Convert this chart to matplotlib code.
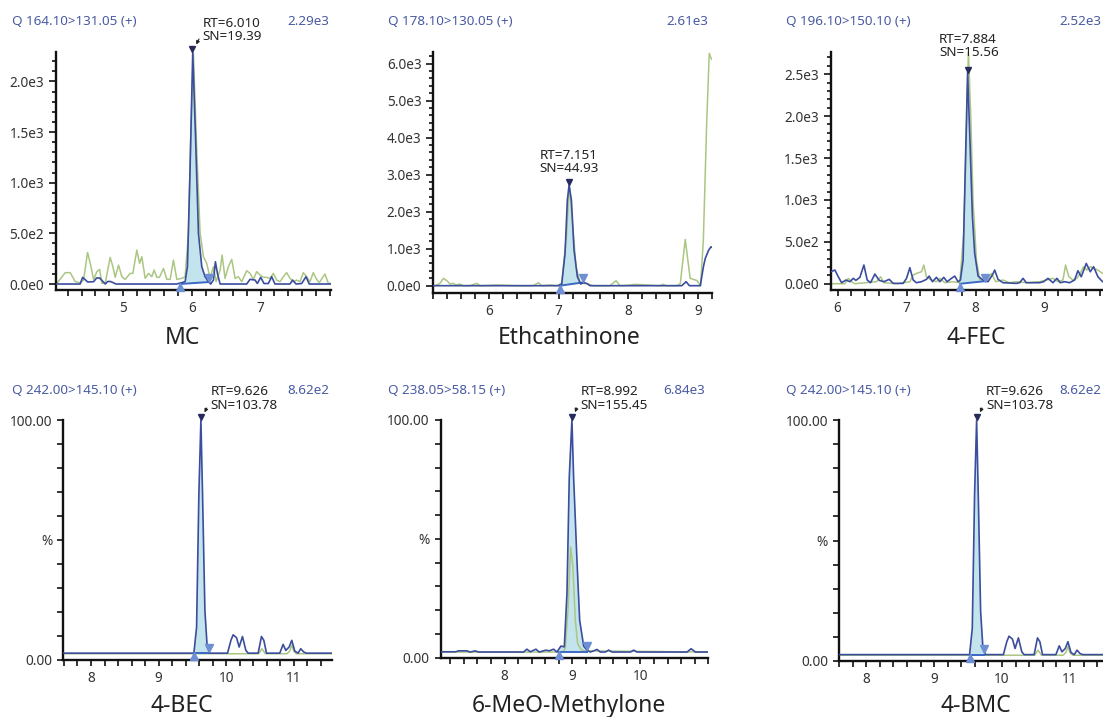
import numpy as np
import matplotlib
matplotlib.use("Agg")
import matplotlib.pyplot as plt
from matplotlib.ticker import MultipleLocator, FixedLocator, FixedFormatter, FuncFormatter
from matplotlib.transforms import offset_copy

W, H = 1103, 717
plt.rcParams["font.family"] = ["Noto Sans", "DejaVu Sans"]

BLUE = "#3b4d9e"
GREEN = "#abc682"
FILL = "#c4e4ed"
HEAD = "#4a5ba3"
APEX = "#262b5c"
EDGE = "#6f8fd4"
BASE = "#3a68c4"

# ---- MC (Q 164.10>131.05) ----
MC_BLUE_T = [4.03, 4.38, 4.417, 4.49, 4.575, 4.62, 4.662, 4.745, 4.78, 4.82, 4.86, 4.9,
             5.78, 5.903, 5.937, 5.976, 6.014, 6.053, 6.097, 6.145, 6.193, 6.242, 6.275,
             6.314, 6.343, 6.372, 6.411, 6.797, 6.845, 6.918, 6.952, 7.0, 7.048, 7.111,
             7.159, 7.208, 7.425, 7.464, 7.512, 7.594, 7.657, 7.705, 8.02]
MC_BLUE_I = [0, 0, 66, 20, 23, 60, 60, 0, 25, 25, 13, 0,
             0, 23, 171, 1156, 2290, 1484, 500, 171, 72, 23, 0,
             39, 220, 105, 0, 0, 46, 39, 5, 66, 5, 5,
             72, 0, 0, 39, 0, 5, 72, 0, 0]
MC_GREEN_T = [4.043, 4.164, 4.237, 4.309, 4.382, 4.43, 4.488, 4.527, 4.575, 4.623, 4.662,
              4.696, 4.744, 4.816, 4.855, 4.889, 4.937, 4.986, 5.034, 5.106, 5.145, 5.203,
              5.242, 5.275, 5.324, 5.372, 5.42, 5.454, 5.493, 5.531, 5.589, 5.638, 5.686,
              5.734, 5.783, 5.855, 5.903, 5.952, 5.986, 6.024, 6.072, 6.121, 6.169, 6.217,
              6.266, 6.314, 6.353, 6.411, 6.44, 6.483, 6.531, 6.58, 6.628, 6.676, 6.725,
              6.797, 6.845, 6.894, 6.942, 6.99, 7.039, 7.087, 7.135, 7.184, 7.232, 7.28,
              7.329, 7.377, 7.425, 7.473, 7.522, 7.57, 7.618, 7.667, 7.715, 7.763, 7.802,
              7.85, 7.932, 7.981, 8.019]
MC_GREEN_I = [7, 112, 112, 23, 13, 39, 312, 204, 46, 122, 145,
              7, 7, 263, 171, 66, 187, 72, 46, 105, 105, 335,
              204, 269, 56, 105, 72, 138, 66, 66, 154, 46, 46,
              236, 46, 56, 72, 500, 1484, 2272, 1320, 500, 269, 204,
              56, 171, 23, 138, 286, 56, 171, 243, 56, 72, 23,
              131, 105, 46, 122, 89, 66, 66, 56, 105, 39, 23,
              72, 112, 56, 23, 39, 23, 112, 72, 23, 112, 56,
              13, 99, 7, 7]

# ---- Ethcathinone (Q 178.10>130.05) ----
ETH_BLUE_T = [5.2, 7.0, 7.045, 7.093, 7.126, 7.151, 7.184, 7.222, 7.27, 7.318, 7.356,
              7.404, 7.452, 8.77, 8.832, 8.88, 9.036, 9.081, 9.108, 9.156, 9.19, 9.21]
ETH_BLUE_I = [0, 0, 45, 874, 2315, 2720, 2315, 964, 243, 45, 81,
              63, 0, 0, 108, 0, 0, 513, 740, 960, 1050, 1030]
ETH_GREEN_T = [5.224, 5.296, 5.344, 5.401, 5.44, 5.487, 5.526, 5.583, 5.631, 5.727, 5.823,
               5.871, 6.11, 6.398, 6.637, 6.709, 6.757, 6.877, 6.973, 7.045, 7.116, 7.155,
               7.193, 7.251, 7.308, 7.356, 7.428, 7.5, 7.739, 7.826, 7.883, 8.027, 8.099,
               8.458, 8.496, 8.554, 8.698, 8.748, 8.82, 8.89, 8.986, 9.04, 9.08, 9.128,
               9.165, 9.19, 9.21]
ETH_GREEN_I = [0, 63, 198, 126, 45, 63, 18, 45, 0, 0, 63,
               0, 18, 0, 0, 81, 0, 18, 0, 63, 1414, 2720,
               1865, 513, 81, 63, 45, 0, 0, 135, 0, 18, 36,
               0, 36, 0, 0, 50, 1250, 200, 140, 0, 1230, 4400,
               6280, 6150, 6100]

# ---- 4-FEC (Q 196.10>150.10) ----
FEC_BLUE_T = [5.9, 5.961, 6.01, 6.058, 6.121, 6.178, 6.227, 6.265, 6.323, 6.381, 6.429,
              6.478, 6.54, 6.603, 6.671, 6.748, 6.806, 6.95, 6.999, 7.047, 7.095, 7.143,
              7.216, 7.288, 7.327, 7.375, 7.433, 7.481, 7.539, 7.587, 7.65, 7.698, 7.746,
              7.78, 7.819, 7.857, 7.884, 7.915, 7.954, 7.987, 8.036, 8.108, 8.18, 8.243,
              8.277, 8.325, 8.397, 8.59, 8.639, 8.687, 8.735, 8.928, 8.986, 9.049, 9.121,
              9.179, 9.227, 9.29, 9.362, 9.435, 9.483, 9.531, 9.604, 9.662, 9.71, 9.773,
              9.84, 9.89]
FEC_BLUE_I = [143, 163, 83, 12, 44, 24, 64, 40, 76, 223, 44,
              12, 115, 40, 24, 52, 4, 4, 64, 191, 44, 12,
              24, 52, 91, 24, 76, 24, 76, 24, 64, 91, 24,
              44, 282, 1594, 2520, 1793, 799, 362, 91, 44, 24, 103,
              163, 52, 12, 4, 12, 64, 12, 12, 24, 64, 12,
              64, 12, 24, 12, 44, 155, 83, 242, 143, 203, 83,
              24, 40]
FEC_GREEN_T = [5.9, 6.106, 6.154, 6.203, 6.251, 6.564, 6.622, 6.671, 6.854, 7.047, 7.095,
               7.143, 7.216, 7.249, 7.288, 7.36, 7.433, 7.481, 7.553, 7.674, 7.77, 7.828,
               7.867, 7.896, 7.93, 7.963, 8.012, 8.06, 8.156, 8.229, 8.291, 8.397, 8.493,
               8.59, 8.735, 8.928, 9.121, 9.193, 9.266, 9.304, 9.352, 9.41, 9.468, 9.516,
               9.565, 9.613, 9.662, 9.71, 9.773, 9.84, 9.89]
FEC_GREEN_I = [0, 0, 64, 24, 0, 24, 83, 12, 0, 24, 103,
               123, 143, 223, 83, 44, 24, 64, 12, 24, 12, 600,
               1793, 2767, 1991, 998, 282, 52, 24, 123, 24, 44, 12,
               24, 12, 24, 64, 24, 44, 223, 83, 44, 64, 123,
               203, 163, 203, 183, 163, 123, 120]

# ---- 4-BEC / 4-BMC (Q 242.00>145.10), percent of 8.62e2 ----
BEC_BLUE_T = [7.59, 9.522, 9.562, 9.596, 9.626, 9.65, 9.685, 9.719, 9.759, 10.02, 10.07,
              10.103, 10.153, 10.192, 10.241, 10.291, 10.325, 10.473, 10.522, 10.557, 10.596,
              10.793, 10.842, 10.882, 10.931, 10.97, 11.015, 11.064, 11.103, 11.148, 11.187,
              11.57]
BEC_BLUE_I = [2.65, 2.65, 13.5, 69.3, 100.0, 69.3, 20.5, 5.2, 2.65, 2.65, 8.0,
              10.3, 9.1, 5.2, 9.6, 3.8, 2.65, 2.65, 9.6, 8.0, 2.65,
              2.65, 6.3, 3.8, 5.2, 8.0, 3.5, 2.65, 4.5, 3.1, 2.65,
              2.65]
BEC_GREEN_T = [7.59, 10.48, 10.53, 10.58, 10.9, 10.94, 10.97, 11.0, 11.04, 11.57]
BEC_GREEN_I = [2.4, 2.4, 4.5, 2.4, 2.4, 3.5, 6.0, 3.5, 2.4, 2.4]

# ---- 6-MeO-Methylone (Q 238.05>58.15), percent of 6.84e3 ----
MEO_BLUE_T = [7.06, 7.28, 7.322, 7.445, 7.494, 7.568, 7.617, 8.28, 8.329, 8.378, 8.462,
              8.511, 8.609, 8.658, 8.722, 8.771, 8.83, 8.88, 8.919, 8.953, 8.992, 9.017,
              9.066, 9.106, 9.165, 9.214, 9.263, 9.312, 9.361, 9.41, 9.484, 9.533, 9.582,
              9.853, 9.902, 9.951, 10.688, 10.747, 10.811, 11.0]
MEO_BLUE_I = [2.4, 2.4, 2.8, 2.8, 2.3, 2.8, 2.3, 2.3, 3.5, 2.4, 3.5,
              2.3, 3.1, 2.8, 3.5, 2.3, 4.8, 4.5, 27.0, 76.0, 100.0, 76.0,
              41.0, 15.7, 4.8, 3.1, 2.3, 2.8, 3.4, 2.3, 2.3, 3.1, 2.3,
              2.3, 3.1, 2.3, 2.3, 3.7, 2.3, 2.3]
MEO_GREEN_T = [7.06, 8.86, 8.894, 8.934, 8.973, 9.007, 9.042, 9.076, 9.125, 9.165, 11.0]
MEO_GREEN_I = [2.3, 2.3, 4.0, 20.0, 46.6, 38.0, 15.7, 5.9, 3.4, 2.8, 2.3]

HEADERS = ["Q 164.10>131.05 (+)", "Q 178.10>130.05 (+)", "Q 196.10>150.10 (+)",
           "Q 242.00>145.10 (+)", "Q 238.05>58.15 (+)", "Q 242.00>145.10 (+)"]
MAXIMA = ["2.29e3", "2.61e3", "2.52e3", "8.62e2", "6.84e3", "8.62e2"]
NAMES = ["MC", "Ethcathinone", "4-FEC", "4-BEC", "6-MeO-Methylone", "4-BMC"]
RT = [6.010, 7.151, 7.884, 9.626, 8.992, 9.626]
SN = ["19.39", "44.93", "15.56", "103.78", "155.45", "103.78"]
APEX_I = [2290, 2720, 2520, 100.0, 100.0, 100.0]
# integration limits: start, end, baseline at start, baseline at end, end marker level
PEAK_START = [5.83, 7.02, 7.78, 9.527, 8.796, 9.527]
PEAK_END = [6.256, 7.356, 8.132, 9.739, 9.214, 9.739]
BASE_START = [0, 0, 0, 2.65, 2.5, 2.65]
BASE_END = [20, 90, 30, 2.65, 2.5, 2.65]
END_MARK = [56, 198, 64, 4.9, 4.9, 4.9]

TRACES = [(MC_BLUE_T, MC_BLUE_I, MC_GREEN_T, MC_GREEN_I),
          (ETH_BLUE_T, ETH_BLUE_I, ETH_GREEN_T, ETH_GREEN_I),
          (FEC_BLUE_T, FEC_BLUE_I, FEC_GREEN_T, FEC_GREEN_I),
          (BEC_BLUE_T, BEC_BLUE_I, BEC_GREEN_T, BEC_GREEN_I),
          (MEO_BLUE_T, MEO_BLUE_I, MEO_GREEN_T, MEO_GREEN_I),
          (BEC_BLUE_T, BEC_BLUE_I, BEC_GREEN_T, BEC_GREEN_I)]

# layout in pixels: (left, top, right, bottom), xlim, ylim
BOXES = [(56, 52, 331, 290), (433.3, 52, 711.7, 292.5), (830.7, 52, 1106, 290),
         (63.3, 420, 332.3, 659.5), (440.7, 420, 708.3, 657.5), (839, 420, 1108, 661)]
XLIMS = [(4.03, 8.02), (5.2, 9.2), (5.9, 9.89), (7.59, 11.57), (7.06, 11.0), (7.6, 11.56)]
YLIMS = [(-59, 2290), (-184, 6316), (-75, 2765), (0, 100), (0, 100), (0, 100)]
YSTEP = [(500, 100), (1000, 200), (500, 100)]
# header: left x of the channel text, right edge of the maximum
HEAD_X = [(11.7, 329.3), (388.3, 708.3), (785.7, 1101), (11.7, 329.3), (388.3, 705), (785.7, 1101)]
NAME_X = [182, 569, 976, 182, 569, 976]
# RT text: (x, y, ha), arrow start or None
RT_POS = [((202.7, 30, "left"), (199, 39)), ((569, 162, "center"), None),
          ((939, 45.8, "left"), None), ((210.7, 398.5, "left"), (206.7, 408)),
          ((580.7, 398.5, "left"), (576.7, 408)), ((986, 398.5, "left"), (982, 408))]


def sci(v, _):
    if abs(v) < 1e-9:
        return "0.0e0"
    e = int(np.floor(np.log10(abs(v))))
    return f"{v / 10 ** e:.1f}e{e}"


def xlabel_fn(right):
    # the instrument software leaves the tick at the right edge unlabelled
    return FuncFormatter(lambda v, _: "" if v > right - 0.05 else f"{v:.0f}")


fig = plt.figure(figsize=(W / 100, H / 100), dpi=100)

for k in range(6):
    l, t, r, b = BOXES[k]
    ax = fig.add_axes([l / W, 1 - b / H, (r - l) / W, (b - t) / H])
    bt, bi, gt, gi = TRACES[k]
    bt, bi = np.array(bt), np.array(bi)

    ax.plot(gt, gi, color=GREEN, lw=1.1, zorder=2)
    s, e = PEAK_START[k], PEAK_END[k]
    inside = (bt > s) & (bt < e)
    ax.fill([s] + list(bt[inside]) + [e], [BASE_START[k]] + list(bi[inside]) + [BASE_END[k]],
            color=FILL, lw=0, zorder=1)
    ax.plot([s, e], [BASE_START[k], BASE_END[k]], color=BASE, lw=1.4, zorder=3)
    ax.plot(bt, bi, color=BLUE, lw=1.2, zorder=4)

    up = offset_copy(ax.transData, fig=fig, y=3, units="dots")
    down = offset_copy(ax.transData, fig=fig, y=-3, units="dots")
    ax.plot([RT[k]], [APEX_I[k]], marker="v", ms=5, color=APEX, ls="none",
            transform=up, clip_on=False, zorder=6)
    ax.plot([s], [BASE_START[k]], marker="^", ms=5.5, color=EDGE, ls="none",
            transform=down, clip_on=False, zorder=6)
    ax.plot([e], [END_MARK[k]], marker="v", ms=5.5, color=EDGE, ls="none", zorder=6)

    ax.set_xlim(*XLIMS[k])
    ax.set_ylim(*YLIMS[k])
    for side in ("top", "right"):
        ax.spines[side].set_visible(False)
    for side in ("left", "bottom"):
        ax.spines[side].set_linewidth(1.7)
        ax.spines[side].set_color("#111111")

    ax.xaxis.set_major_locator(MultipleLocator(1))
    ax.xaxis.set_minor_locator(MultipleLocator(0.2))
    ax.xaxis.set_major_formatter(xlabel_fn(XLIMS[k][1]))
    if k < 3:
        ax.yaxis.set_major_locator(MultipleLocator(YSTEP[k][0]))
        ax.yaxis.set_minor_locator(MultipleLocator(YSTEP[k][1]))
        ax.yaxis.set_major_formatter(FuncFormatter(sci))
        ax.tick_params(axis="y", which="major", length=5)
        ax.tick_params(axis="y", which="minor", length=3)
    else:
        ax.yaxis.set_major_locator(FixedLocator([0, 50, 100]))
        ax.yaxis.set_major_formatter(FixedFormatter(["0.00", "%", "100.00"]))
        ax.yaxis.set_minor_locator(MultipleLocator(10))
        ax.tick_params(axis="y", which="both", length=4.5)
    ax.tick_params(axis="x", which="both", length=4, pad=4)
    ax.tick_params(which="both", direction="out", width=1.2, color="#111111",
                   labelsize=9.8, labelcolor="#333333")

    ty = 21.7 if k < 3 else 390
    fig.text(HEAD_X[k][0] / W, 1 - ty / H, HEADERS[k], color=HEAD, fontsize=9.7,
             ha="left", va="center")
    fig.text(HEAD_X[k][1] / W, 1 - ty / H, MAXIMA[k], color=HEAD, fontsize=9.7,
             ha="right", va="center")

    ny = 338 if k < 3 else 706
    fig.text(NAME_X[k] / W, 1 - ny / H, NAMES[k], fontsize=16.5, color="#222222",
             fontweight="light", ha="center", va="center")

    (tx, tyy, ha), arr = RT_POS[k]
    fig.text(tx / W, 1 - tyy / H, f"RT={RT[k]:.3f}\nSN={SN[k]}", fontsize=9.7,
             color="#222222", ha=ha, va="center", linespacing=1.05)
    if arr is not None:
        ax.annotate("", xy=(RT[k], APEX_I[k]), xycoords="data",
                    xytext=(arr[0], H - arr[1]), textcoords="figure pixels",
                    arrowprops=dict(arrowstyle="-|>", color="#222222", lw=0.8,
                                    mutation_scale=5, shrinkA=0, shrinkB=6),
                    annotation_clip=False)

fig.savefig("out.png", dpi=100)
